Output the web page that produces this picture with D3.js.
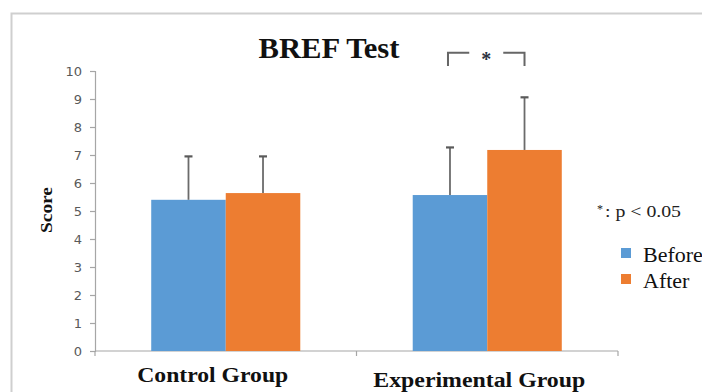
<!DOCTYPE html>
<html>
<head>
<meta charset="utf-8">
<script src="https://cdn.jsdelivr.net/npm/d3@7"></script>
<style>
  html, body { margin: 0; padding: 0; background: #fff; overflow: hidden; }
  svg { display: block; }
</style>
</head>
<body>
<svg id="chart" width="702" height="392"></svg>
<script>
// BREF scores, mean with upper standard-deviation whiskers
const groups = ["Control Group", "Experimental Group"];
const seriesNames = ["Before", "After"];
const beforeMeans = [5.40, 5.57];
const afterMeans = [5.64, 7.18];
const beforeSD = [1.55, 1.70];
const afterSD = [1.31, 1.88];
const yTicks = [0, 1, 2, 3, 4, 5, 6, 7, 8, 9, 10];
const colors = ["#5B9BD5", "#ED7D31"];

const svg = d3.select("#chart");
const serif = "'Liberation Serif', 'Times New Roman', serif";

// outer chart frame (continues past the right and bottom edges)
svg.append("path")
  .attr("d", "M11.5,400 V13.5 H710")
  .attr("fill", "none")
  .attr("stroke", "#cfcfcf")
  .attr("stroke-width", 2);

const plot = { left: 95, right: 618, top: 71, bottom: 351 };

const y = d3.scaleLinear().domain([0, 10]).range([plot.bottom, plot.top]);
const x0 = d3.scaleBand().domain(groups).range([plot.left, plot.right]).padding(0);
const bw = x0.bandwidth();
const x1 = d3.scaleBand().domain(seriesNames).range([bw * 0.215, bw * 0.785]).padding(0);

const rows = groups.map((g, i) => ({
  group: g,
  values: [
    { s: "Before", mean: beforeMeans[i], sd: beforeSD[i] },
    { s: "After", mean: afterMeans[i], sd: afterSD[i] }
  ]
}));

// y axis
const yAxis = svg.append("g")
  .attr("transform", `translate(${plot.left},0)`)
  .call(d3.axisLeft(y).tickValues(yTicks).tickSize(5).tickPadding(8));
yAxis.select(".domain").attr("stroke", "#a6a6a6").attr("stroke-width", 1.2);
yAxis.selectAll(".tick line").attr("stroke", "#a6a6a6").attr("stroke-width", 1.2);
yAxis.selectAll(".tick text")
  .attr("fill", "#595959")
  .style("font-family", "'DejaVu Sans', sans-serif")
  .style("font-size", "13px");

// x axis with boundary ticks between categories
const xAxisG = svg.append("g");
xAxisG.append("line")
  .attr("x1", plot.left).attr("x2", plot.right)
  .attr("y1", plot.bottom).attr("y2", plot.bottom)
  .attr("stroke", "#a6a6a6").attr("stroke-width", 1.2);
const boundaries = [plot.left].concat(groups.map(g => x0(g) + bw));
xAxisG.selectAll("line.tk").data(boundaries).join("line")
  .attr("class", "tk")
  .attr("x1", d => d).attr("x2", d => d)
  .attr("y1", plot.bottom).attr("y2", plot.bottom + 5)
  .attr("stroke", "#a6a6a6").attr("stroke-width", 1.2);

// category labels
const catLabelY = [382, 387];
const catLabelW = [151, 212];
const catLabelShift = [-13, -8];
svg.selectAll("text.cat").data(groups).join("text")
  .attr("class", "cat")
  .attr("x", (d, i) => x0(d) + bw / 2 + catLabelShift[i])
  .attr("y", (d, i) => catLabelY[i])
  .attr("text-anchor", "middle")
  .attr("textLength", (d, i) => catLabelW[i])
  .attr("lengthAdjust", "spacingAndGlyphs")
  .style("font-family", serif)
  .style("font-weight", "bold")
  .style("font-size", "20px")
  .attr("fill", "#111")
  .text(d => d);

// bars
const gGroups = svg.selectAll("g.grp").data(rows).join("g")
  .attr("class", "grp")
  .attr("transform", d => `translate(${x0(d.group)},0)`);

gGroups.selectAll("rect").data(d => d.values).join("rect")
  .attr("x", d => x1(d.s))
  .attr("width", x1.bandwidth())
  .attr("y", d => y(d.mean))
  .attr("height", d => y(0) - y(d.mean))
  .attr("fill", (d, i) => colors[i]);

// upper error whiskers
gGroups.selectAll("line.err").data(d => d.values).join("line")
  .attr("class", "err")
  .attr("x1", d => x1(d.s) + x1.bandwidth() / 2)
  .attr("x2", d => x1(d.s) + x1.bandwidth() / 2)
  .attr("y1", d => y(d.mean))
  .attr("y2", d => y(d.mean + d.sd))
  .attr("stroke", "#6b6b6b").attr("stroke-width", 1.8);
gGroups.selectAll("line.cap").data(d => d.values).join("line")
  .attr("class", "cap")
  .attr("x1", d => x1(d.s) + x1.bandwidth() / 2 - 4)
  .attr("x2", d => x1(d.s) + x1.bandwidth() / 2 + 4)
  .attr("y1", d => y(d.mean + d.sd))
  .attr("y2", d => y(d.mean + d.sd))
  .attr("stroke", "#5a5a5a").attr("stroke-width", 2.2);

// title
svg.append("text")
  .attr("x", 329).attr("y", 58)
  .attr("text-anchor", "middle")
  .attr("textLength", 141)
  .attr("lengthAdjust", "spacingAndGlyphs")
  .style("font-family", serif)
  .style("font-weight", "bold")
  .style("font-size", "29px")
  .attr("fill", "#111")
  .text("BREF Test");

// y axis title
svg.append("text")
  .attr("transform", "translate(52,210) rotate(-90)")
  .attr("text-anchor", "middle")
  .attr("textLength", 46)
  .attr("lengthAdjust", "spacingAndGlyphs")
  .style("font-family", serif)
  .style("font-weight", "bold")
  .style("font-size", "17px")
  .attr("fill", "#111")
  .text("Score");

// significance bracket over the experimental group
const expG = groups[1];
const bx1 = x0(expG) + x1("Before") + x1.bandwidth() / 2 - 2;
const bx2 = x0(expG) + x1("After") + x1.bandwidth() / 2;
const bTop = y(10.65), bFoot = y(10.18);
const bMid = (bx1 + bx2) / 2;
const bracket = svg.append("g")
  .attr("fill", "none").attr("stroke", "#666").attr("stroke-width", 2);
bracket.append("path").attr("d", `M${bx1},${bFoot} V${bTop} H${bMid - 17}`);
bracket.append("path").attr("d", `M${bx2},${bFoot} V${bTop} H${bMid + 17}`);
svg.append("text")
  .attr("x", bMid).attr("y", bTop + 13)
  .attr("text-anchor", "middle")
  .style("font-family", serif)
  .style("font-weight", "bold")
  .style("font-size", "20px")
  .attr("fill", "#2a3340")
  .text("*");

// significance note
svg.append("text")
  .attr("x", 597).attr("y", 217)
  .style("font-family", serif)
  .style("font-size", "17px")
  .attr("fill", "#222")
  .call(t => {
    t.append("tspan").attr("font-size", "12px").attr("dy", -4).text("*");
    t.append("tspan").attr("dy", 4).attr("dx", 2)
      .attr("textLength", 76).attr("lengthAdjust", "spacingAndGlyphs")
      .text(": p < 0.05");
  });

// legend
const legend = svg.selectAll("g.leg").data(seriesNames).join("g")
  .attr("class", "leg")
  .attr("transform", (d, i) => `translate(621,${248 + i * 26})`);
legend.append("rect")
  .attr("width", 10).attr("height", 10)
  .attr("fill", (d, i) => colors[i]);
legend.append("text")
  .attr("x", 22).attr("y", 14)
  .style("font-family", serif)
  .style("font-size", "22px")
  .attr("fill", "#111")
  .text(d => d);
</script>
</body>
</html>
